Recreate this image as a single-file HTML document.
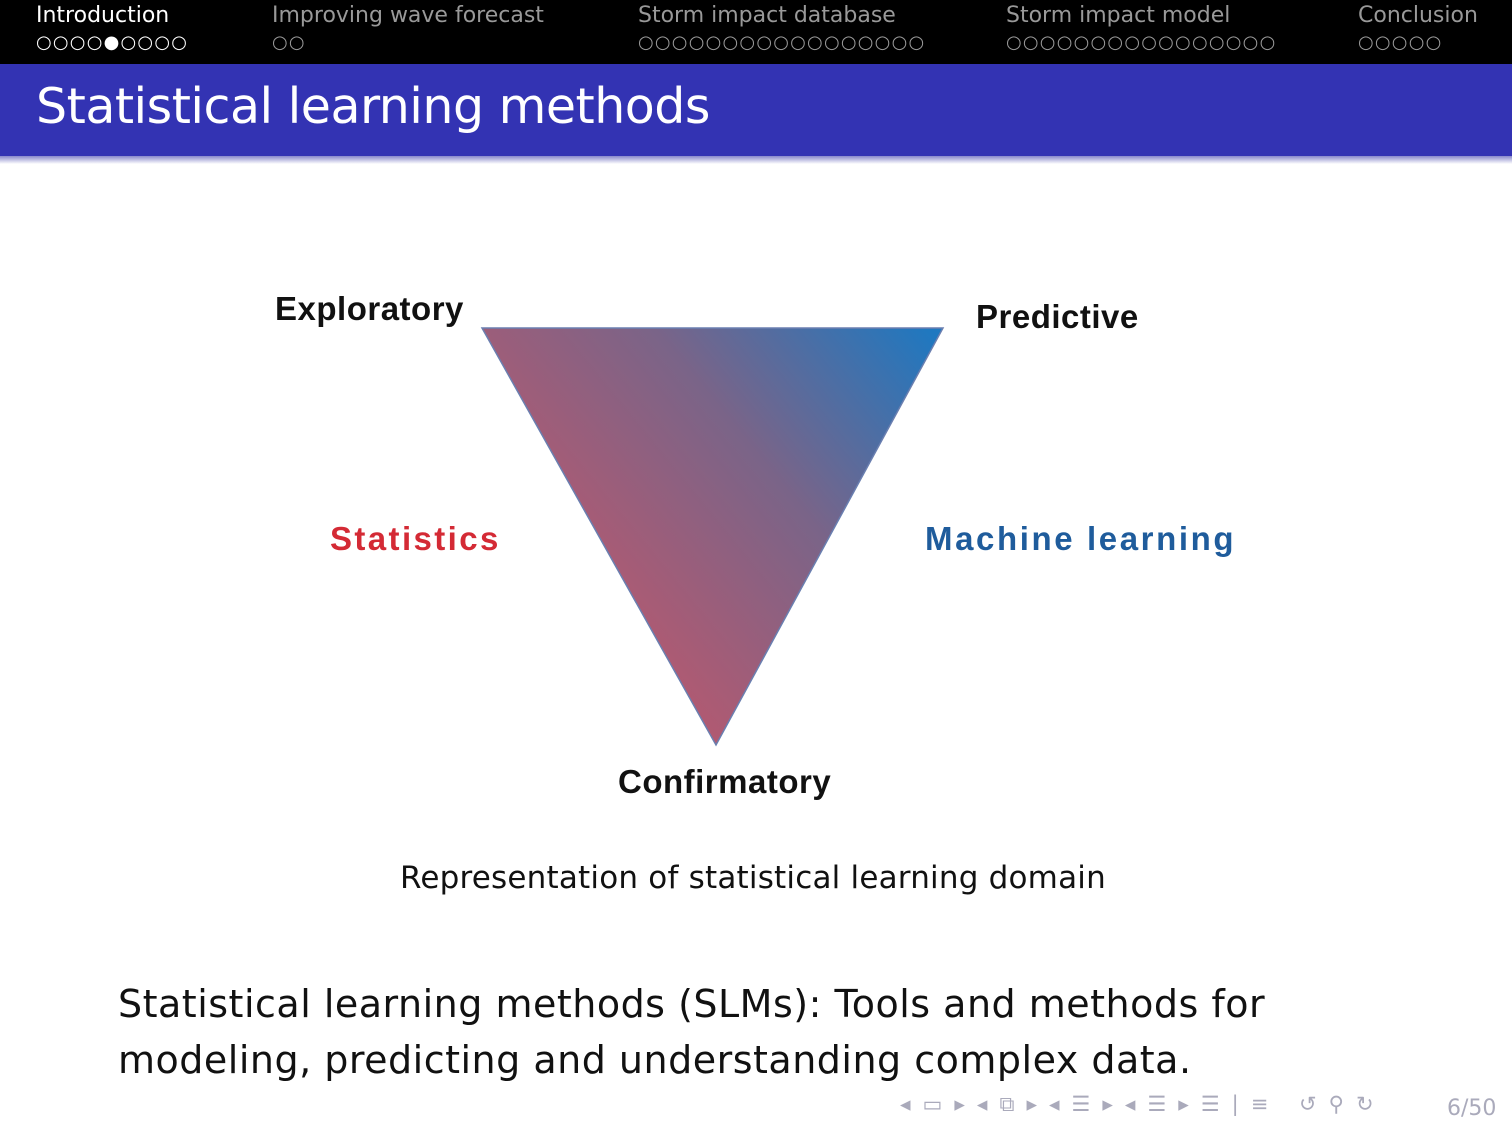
<!DOCTYPE html>
<html><head><meta charset="utf-8"><style>
body{margin:0;width:1512px;height:1134px;background:#fff;position:relative;overflow:hidden;font-family:"DejaVu Sans","Liberation Sans",sans-serif}
.hdr{position:absolute;left:0;top:0;width:1512px;height:64px;background:#000}
.sec{position:absolute;top:3px;font-size:22px;color:#999}
.dots{position:absolute;top:32px;font-size:18px;color:#999;letter-spacing:1.2px}
.band{position:absolute;left:0;top:64px;width:1512px;height:92px;background:#3333b3}
.shadow{position:absolute;left:0;top:156px;width:1512px;height:8px;background:linear-gradient(#8888cc,#fff)}
.title{position:absolute;left:36px;top:78px;font-size:49px;color:#fff;letter-spacing:-0.5px}
.lbl{position:absolute;font-family:"Liberation Sans",sans-serif;font-weight:bold;font-size:33px;color:#111}
</style></head><body>
<div class="hdr"></div>
<div class="sec" style="left:36px;color:#fff">Introduction</div>
<div class="sec" style="left:272px">Improving wave forecast</div>
<div class="sec" style="left:638px">Storm impact database</div>
<div class="sec" style="left:1006px">Storm impact model</div>
<div class="sec" style="left:1358px">Conclusion</div>
<div class="dots" style="left:36px;color:#fff">○○○○●○○○○</div>
<div class="dots" style="left:272px">○○</div>
<div class="dots" style="left:638px">○○○○○○○○○○○○○○○○○</div>
<div class="dots" style="left:1006px">○○○○○○○○○○○○○○○○</div>
<div class="dots" style="left:1358px">○○○○○</div>
<div class="band"></div><div class="shadow"></div>
<div class="title">Statistical learning methods</div>
<svg style="position:absolute;left:0;top:0" width="1512" height="1134">
<defs><linearGradient id="g" x1="600" y1="600" x2="930" y2="330" gradientUnits="userSpaceOnUse">
<stop offset="0" stop-color="#b05a72"/><stop offset="0.5" stop-color="#7a6488"/><stop offset="1" stop-color="#1f78c0"/></linearGradient></defs>
<polygon points="482,328 943,328 716,745" fill="url(#g)" stroke="#6a7fb0" stroke-width="1.5"/>
</svg>
<div class="lbl" style="left:275px;top:290px;letter-spacing:0.5px">Exploratory</div>
<div class="lbl" style="left:976px;top:298px;letter-spacing:0.5px">Predictive</div>
<div class="lbl" style="left:330px;top:520px;color:#d42a35;letter-spacing:2.4px">Statistics</div>
<div class="lbl" style="left:925px;top:520px;color:#1f5c9c;letter-spacing:2.6px">Machine learning</div>
<div class="lbl" style="left:618px;top:763px;letter-spacing:0.5px">Confirmatory</div>
<div style="position:absolute;left:400px;top:860px;font-size:31px;color:#111;letter-spacing:0.2px">Representation of statistical learning domain</div>
<div style="position:absolute;left:118px;top:976px;font-size:38px;line-height:56px;color:#111;letter-spacing:0.5px">Statistical learning methods (SLMs): Tools and methods for<br>modeling, predicting and understanding complex data.</div>
<div style="position:absolute;left:900px;top:1092px;font-size:21px;color:#aab;letter-spacing:12px">◂▭▸◂⧉▸◂☰▸◂☰▸☰|≡ ↺⚲↻</div>
<div style="position:absolute;left:1447px;top:1096px;font-size:22px;color:#aab">6/50</div>
</body></html>
